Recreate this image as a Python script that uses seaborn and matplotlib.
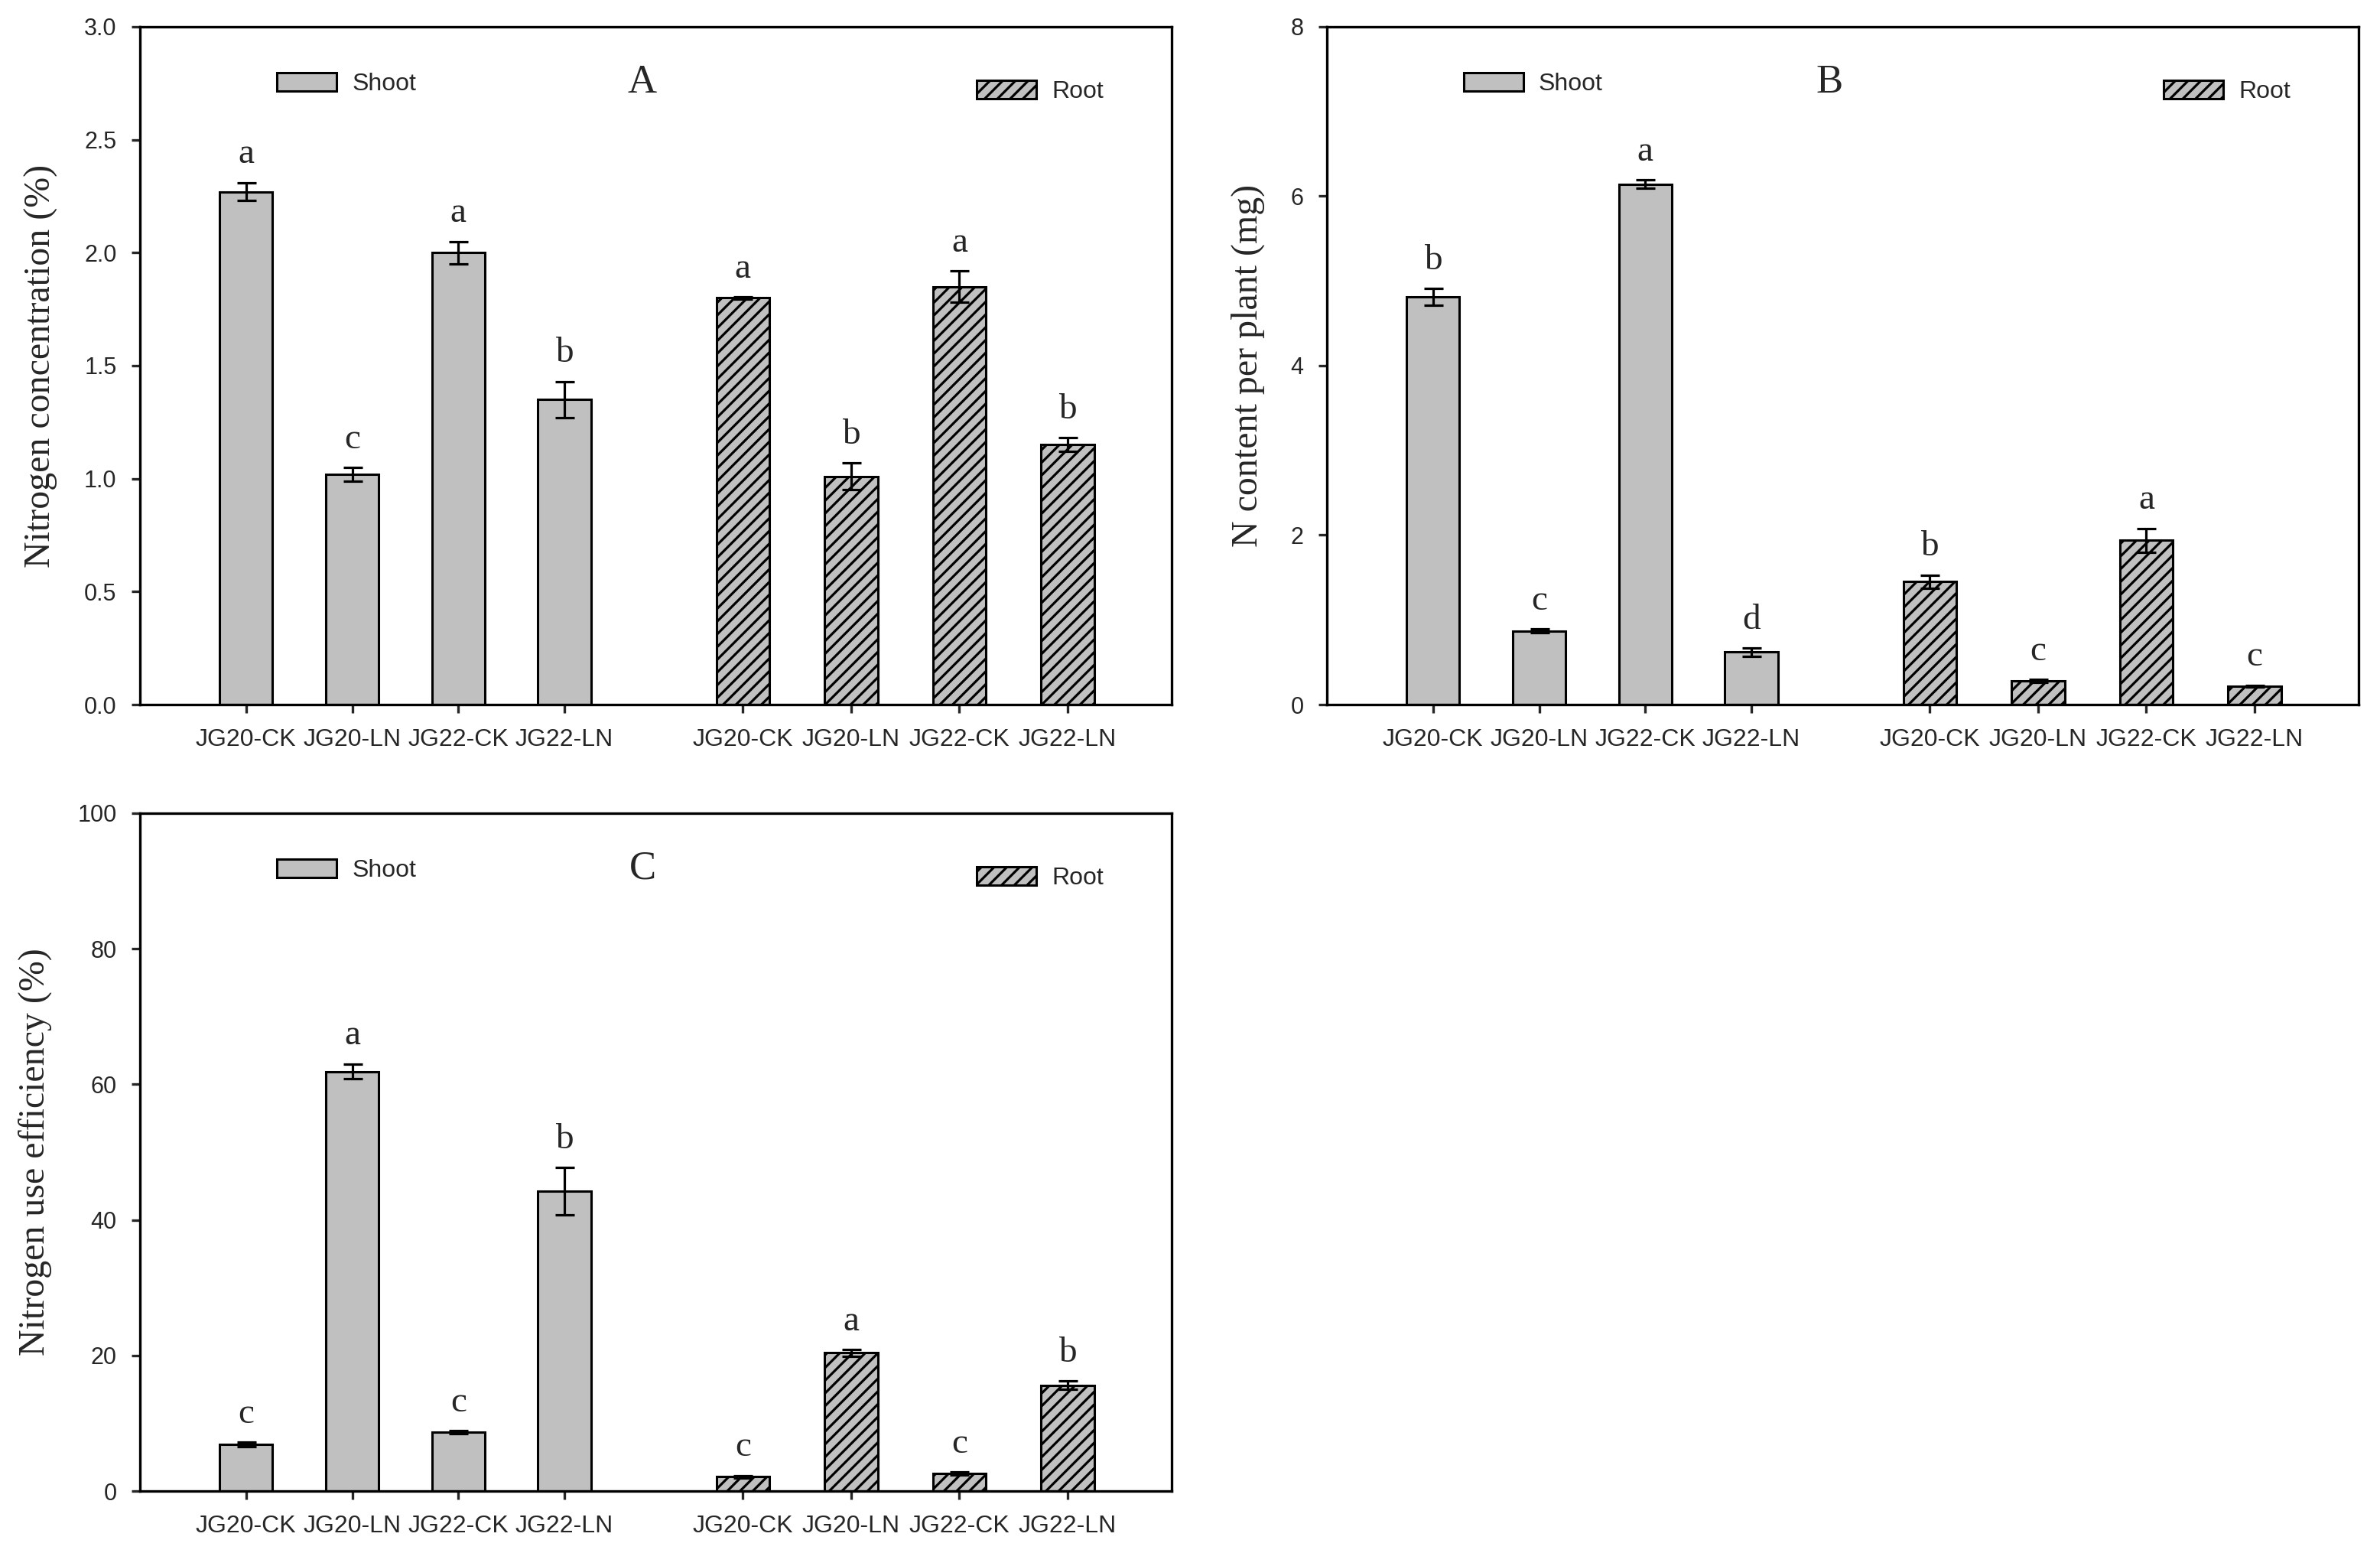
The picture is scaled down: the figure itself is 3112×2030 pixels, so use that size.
import numpy as np
import pandas as pd
import matplotlib
matplotlib.use('Agg')
import matplotlib.pyplot as plt
import seaborn as sns
from matplotlib.patches import Patch

# categories
cultivars = ['JG20-CK', 'JG20-LN', 'JG22-CK', 'JG22-LN']
parts = ['Shoot', 'Root']

# Panel A: nitrogen concentration (%)
conc_shoot = [2.27, 1.02, 2.00, 1.35]
conc_shoot_err = [0.04, 0.03, 0.05, 0.08]
conc_root = [1.80, 1.01, 1.85, 1.15]
conc_root_err = [0.005, 0.06, 0.07, 0.03]
conc_letters_shoot = ['a', 'c', 'a', 'b']
conc_letters_root = ['a', 'b', 'a', 'b']

# Panel B: N content per plant (mg)
cont_shoot = [4.81, 0.87, 6.14, 0.62]
cont_shoot_err = [0.10, 0.02, 0.05, 0.05]
cont_root = [1.45, 0.28, 1.94, 0.22]
cont_root_err = [0.08, 0.02, 0.14, 0.01]
cont_letters_shoot = ['b', 'c', 'a', 'd']
cont_letters_root = ['b', 'c', 'a', 'c']

# Panel C: nitrogen use efficiency (%)
nue_shoot = [6.9, 61.9, 8.7, 44.2]
nue_shoot_err = [0.3, 1.1, 0.2, 3.5]
nue_root = [2.1, 20.4, 2.6, 15.6]
nue_root_err = [0.2, 0.5, 0.2, 0.6]
nue_letters_shoot = ['c', 'a', 'c', 'b']
nue_letters_root = ['c', 'a', 'c', 'b']

# bar positions (shoot group, gap, root group)
shoot_pos = [0, 1, 2, 3]
root_pos = [4.68, 5.70, 6.72, 7.74]

GRAY = '#c0c0c0'
SANS = ['Liberation Sans Narrow', 'Liberation Sans', 'DejaVu Sans']
SERIF = ['Liberation Serif', 'DejaVu Serif']

sns.set_theme(style='ticks')
plt.rcParams['font.family'] = SANS
plt.rcParams['hatch.linewidth'] = 2.3
plt.rcParams['axes.linewidth'] = 2.4


def draw_panel(ax, shoot, shoot_err, root, root_err, let_s, let_r,
               ylim, yticks, ylabel, tag, yfmt):
    df = pd.DataFrame({
        'pos': shoot_pos + root_pos,
        'value': shoot + root,
        'part': ['Shoot'] * 4 + ['Root'] * 4,
    })
    sns.barplot(data=df, x='pos', y='value', hue='part', native_scale=True,
                dodge=False, palette={'Shoot': GRAY, 'Root': GRAY},
                edgecolor='black', linewidth=2.2, width=0.5,
                errorbar=None, legend=False, ax=ax)
    for bar in ax.patches:
        if bar.get_x() + bar.get_width() / 2 > 4:
            bar.set_hatch('//')

    ax.errorbar(df['pos'], df['value'], yerr=shoot_err + root_err, fmt='none',
                ecolor='black', elinewidth=2.3, capsize=9, capthick=2.3,
                zorder=5)
    tops = np.array(shoot + root) + np.array(shoot_err + root_err)
    for x, t, lab in zip(df['pos'], tops, let_s + let_r):
        ax.annotate(lab, (x, t), xytext=(0, 11), textcoords='offset points',
                    ha='center', va='bottom', fontsize=34, family=SERIF)

    ax.set_xlim(-1.0, 8.72)
    ax.set_ylim(*ylim)
    ax.set_yticks(yticks)
    ax.set_yticklabels([yfmt.format(v) for v in yticks])
    ax.set_xticks(shoot_pos + root_pos)
    ax.set_xticklabels(cultivars + cultivars)
    ax.tick_params(axis='both', direction='out', length=8, width=2.4,
                   top=False, right=False)
    ax.tick_params(axis='y', labelsize=22, pad=14)
    ax.tick_params(axis='x', labelsize=23, pad=14)
    ax.set_xlabel('')
    ax.set_ylabel(ylabel, fontsize=34.5, family=SERIF, labelpad=24)
    for s in ax.spines.values():
        s.set_visible(True)
        s.set_color('black')

    ax.text(0.487, 0.918, tag, transform=ax.transAxes, ha='center',
            va='center', fontsize=38, family=SERIF)

    h_shoot = Patch(facecolor=GRAY, edgecolor='black', linewidth=2.2,
                    label='Shoot')
    h_root = Patch(facecolor=GRAY, edgecolor='black', linewidth=2.2,
                   hatch='//', label='Root')
    leg1 = ax.legend(handles=[h_shoot], loc='center left',
                     bbox_to_anchor=(0.1327, 0.9153), frameon=False,
                     fontsize=23, handlelength=2.44, handleheight=0.78,
                     handletextpad=0.63, borderpad=0, borderaxespad=0)
    ax.add_artist(leg1)
    ax.legend(handles=[h_root], loc='center left',
              bbox_to_anchor=(0.811, 0.904), frameon=False,
              fontsize=23, handlelength=2.44, handleheight=0.78,
              handletextpad=0.63, borderpad=0, borderaxespad=0)


fig = plt.figure(figsize=(31.12, 20.30), dpi=100)
ax_a = fig.add_axes([0.0588, 0.5463, 0.4335, 0.4365])
ax_b = fig.add_axes([0.5575, 0.5463, 0.4335, 0.4365])
ax_c = fig.add_axes([0.0588, 0.0399, 0.4335, 0.4365])

draw_panel(ax_a, conc_shoot, conc_shoot_err, conc_root, conc_root_err,
           conc_letters_shoot, conc_letters_root, (0, 3.0),
           [0.0, 0.5, 1.0, 1.5, 2.0, 2.5, 3.0],
           'Nitrogen concentration (%)', 'A', '{:.1f}')
draw_panel(ax_b, cont_shoot, cont_shoot_err, cont_root, cont_root_err,
           cont_letters_shoot, cont_letters_root, (0, 8),
           [0, 2, 4, 6, 8], 'N content per plant (mg)', 'B', '{:d}')
draw_panel(ax_c, nue_shoot, nue_shoot_err, nue_root, nue_root_err,
           nue_letters_shoot, nue_letters_root, (0, 100),
           [0, 20, 40, 60, 80, 100], 'Nitrogen use efficiency (%)', 'C',
           '{:d}')

fig.savefig('out.png', dpi=100, facecolor='white')
